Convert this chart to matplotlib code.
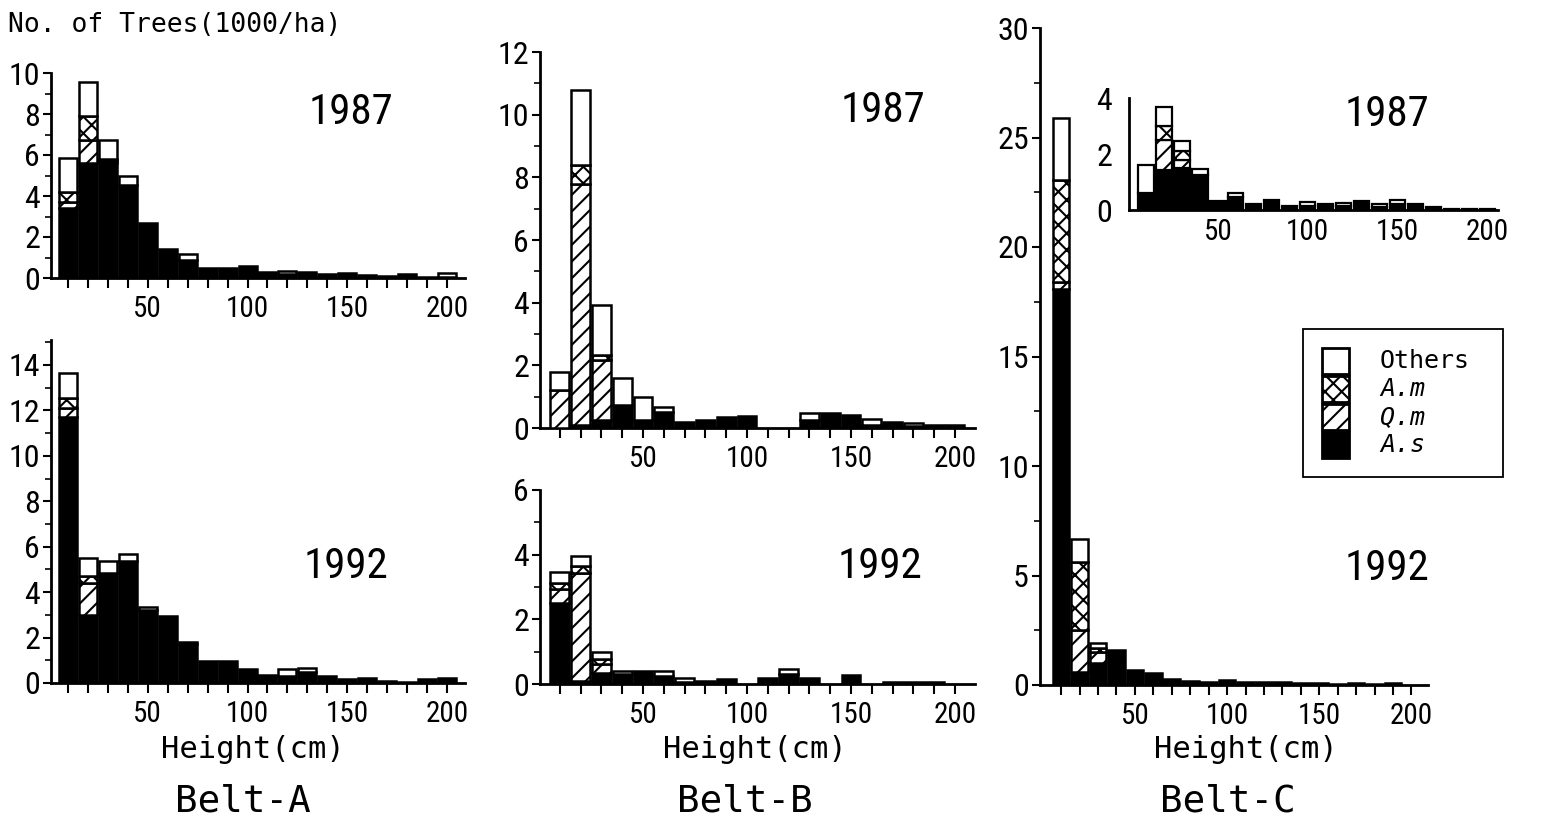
import matplotlib
matplotlib.use("Agg")
import matplotlib.pyplot as plt
from matplotlib.patches import Rectangle
from matplotlib.ticker import MultipleLocator
from matplotlib import font_manager
import numpy as np

plt.rcParams['hatch.linewidth'] = 1.5

# ---------------- data (1000 trees / ha) ----------------
bins = [10, 20, 30, 40, 50, 60, 70, 80, 90, 100, 110, 120, 130, 140, 150, 160, 170, 180, 190, 200]
xtick_labels = [50, 100, 150, 200]
species = ["Others", "A.m", "Q.m", "A.s"]

# Belt-A 1987
a87_as = [3.4, 5.6, 5.6, 4.55, 2.7, 1.4, 0.9, 0.5, 0.5, 0.6, 0.3, 0.2, 0.3, 0.2, 0.25, 0.15, 0.1, 0.2, 0.05, 0.05]
a87_qm = [0.3, 1.15, 0.1, 0, 0, 0, 0, 0, 0, 0, 0, 0, 0, 0, 0, 0, 0, 0, 0, 0]
a87_am = [0.5, 1.15, 0.1, 0, 0, 0, 0, 0, 0, 0, 0, 0, 0, 0, 0, 0, 0, 0, 0, 0]
a87_ot = [1.65, 1.65, 0.95, 0.45, 0, 0, 0.25, 0, 0, 0, 0, 0.15, 0, 0, 0, 0, 0, 0, 0, 0.2]
# Belt-A 1992
a92_as = [11.7, 3.0, 4.85, 5.35, 3.2, 2.93, 1.7, 0.98, 0.98, 0.6, 0.37, 0.3, 0.5, 0.3, 0.18, 0.22, 0.1, 0.05, 0.18, 0.22]
a92_qm = [0.4, 1.4, 0, 0, 0, 0, 0, 0, 0, 0, 0, 0, 0, 0, 0, 0, 0, 0, 0, 0]
a92_am = [0.45, 0.3, 0, 0, 0, 0, 0, 0, 0, 0, 0, 0, 0, 0, 0, 0, 0, 0, 0, 0]
a92_ot = [1.1, 0.8, 0.5, 0.35, 0.15, 0, 0.1, 0, 0, 0, 0, 0.3, 0.15, 0, 0, 0, 0, 0, 0, 0]
# Belt-B 1987
b87_as = [0, 0.1, 0.24, 0.72, 0.25, 0.5, 0.19, 0.24, 0.35, 0.38, 0, 0, 0.25, 0.49, 0.4, 0.1, 0.19, 0.05, 0.08, 0.08]
b87_qm = [1.2, 7.7, 1.92, 0, 0, 0, 0, 0, 0, 0, 0, 0, 0, 0, 0, 0, 0, 0, 0, 0]
b87_am = [0, 0.6, 0.16, 0, 0, 0, 0, 0, 0, 0, 0, 0, 0, 0, 0, 0, 0, 0, 0, 0]
b87_ot = [0.6, 2.4, 1.59, 0.88, 0.74, 0.17, 0, 0, 0, 0, 0, 0, 0.24, 0, 0, 0.2, 0, 0.11, 0, 0]
# Belt-B 1992
b92_as = [2.52, 0.1, 0.33, 0.3, 0.39, 0.25, 0.05, 0.1, 0.15, 0, 0.18, 0.3, 0.18, 0, 0.28, 0, 0.07, 0.07, 0.07, 0]
b92_qm = [0.41, 3.34, 0.3, 0, 0, 0, 0, 0, 0, 0, 0, 0, 0, 0, 0, 0, 0, 0, 0, 0]
b92_am = [0.2, 0.2, 0.15, 0, 0, 0, 0, 0, 0, 0, 0, 0, 0, 0, 0, 0, 0, 0, 0, 0]
b92_ot = [0.33, 0.31, 0.2, 0.09, 0, 0.14, 0.13, 0, 0, 0, 0, 0.17, 0, 0, 0, 0, 0, 0, 0, 0]
# Belt-C 1987 (inset)
c87_as = [0.62, 1.43, 1.49, 1.25, 0.32, 0.45, 0.21, 0.36, 0.16, 0.15, 0.2, 0.15, 0.31, 0.1, 0.2, 0.23, 0.1, 0.05, 0.04, 0.03]
c87_qm = [0, 1.07, 0.3, 0, 0, 0, 0, 0, 0, 0, 0, 0, 0, 0, 0, 0, 0, 0, 0, 0]
c87_am = [0, 0.49, 0.3, 0, 0, 0, 0, 0, 0, 0, 0, 0, 0, 0, 0, 0, 0, 0, 0, 0]
c87_ot = [0.97, 0.69, 0.36, 0.21, 0, 0.17, 0, 0, 0, 0.12, 0, 0.09, 0, 0.11, 0.15, 0, 0, 0, 0, 0]
# Belt-C 1992
c92_as = [18.1, 0.6, 1.0, 1.62, 0.68, 0.53, 0.27, 0.18, 0.12, 0.23, 0.12, 0.12, 0.12, 0.09, 0.08, 0.05, 0.08, 0.03, 0.1, 0]
c92_qm = [0.3, 1.9, 0.5, 0, 0, 0, 0, 0, 0, 0, 0, 0, 0, 0, 0, 0, 0, 0, 0, 0]
c92_am = [4.65, 3.1, 0.2, 0, 0, 0, 0, 0, 0, 0, 0, 0, 0, 0, 0, 0, 0, 0, 0, 0]
c92_ot = [2.85, 1.07, 0.2, 0, 0, 0, 0, 0, 0, 0, 0, 0, 0, 0, 0, 0, 0, 0, 0, 0]

# ---------------- styling ----------------
W, H = 1542, 835
_installed = {f.name for f in font_manager.fontManager.ttflist}
_narrow_pref = ['Liberation Sans Narrow', 'Arial Narrow', 'Roboto Condensed',
                'Open Sans Condensed', 'Noto Sans Condensed', 'DejaVu Sans Condensed',
                'Liberation Sans']
NARROW = [f for f in _narrow_pref if f in _installed] or ['DejaVu Sans']
NARROW = NARROW[:1] + ['DejaVu Sans']
MONO = ['DejaVu Sans Mono']
styles = {  # species -> (facecolor, hatch)
    "A.s": ("black", None),
    "Q.m": ("white", "//"),
    "A.m": ("white", "xx"),
    "Others": ("white", None),
}

fig = plt.figure(figsize=(W / 100, H / 100), dpi=100)


def ax_px(l, t, r, b):
    return fig.add_axes([l / W, 1 - b / H, (r - l) / W, (b - t) / H])


def fig_text(x, y, s, **kw):
    fig.text(x / W, 1 - y / H, s, ha='center', va='center', **kw)


def draw_panel(ax, s_as, s_qm, s_am, s_ot, ylim, xlim, major, minor,
               width=9.0, lw=1.8, inset=False):
    bottom = np.zeros(len(bins))
    for name, vals in (("A.s", s_as), ("Q.m", s_qm), ("A.m", s_am), ("Others", s_ot)):
        vals = np.asarray(vals, dtype=float)
        fc, hatch = styles[name]
        mask = vals > 0
        ax.bar(np.asarray(bins)[mask], vals[mask], width=width, bottom=bottom[mask],
               color=fc, edgecolor='black', linewidth=lw, hatch=hatch, zorder=3)
        bottom += vals
    ax.set_xlim(*xlim)
    ax.set_ylim(*ylim)
    for sp in ('top', 'right'):
        ax.spines[sp].set_visible(False)
    for sp in ('left', 'bottom'):
        ax.spines[sp].set_linewidth(2.0)
    ax.set_facecolor('none')
    ax.yaxis.set_major_locator(MultipleLocator(major))
    if minor:
        ax.yaxis.set_minor_locator(MultipleLocator(minor))
    if inset:
        ax.set_xticks(xtick_labels)
        ax.tick_params(axis='both', which='both', length=0, pad=6)
        ax.tick_params(axis='y', pad=12)
    else:
        ax.set_xticks(bins, minor=True)
        ax.set_xticks(xtick_labels)
        ax.tick_params(axis='x', which='both', direction='out', length=7, width=1.5, pad=5)
        ax.tick_params(axis='y', which='major', direction='out', length=6, width=1.5, pad=2)
        ax.tick_params(axis='y', which='minor', direction='out', length=4, width=1.2)
    ax.set_xticklabels([str(v) for v in xtick_labels])
    for lab in ax.get_xticklabels():
        lab.set_fontfamily(NARROW)
        lab.set_fontsize(21)
    for lab in ax.get_yticklabels():
        lab.set_fontfamily(NARROW)
        lab.set_fontsize(23)


# Belt-A
axA1 = ax_px(51, 73, 465, 278)
draw_panel(axA1, a87_as, a87_qm, a87_am, a87_ot, (0, 10), (1.5, 209), 2, 1)
axA2 = ax_px(51, 340, 465, 683)
draw_panel(axA2, a92_as, a92_qm, a92_am, a92_ot, (0, 15.1), (1.5, 209), 2, 1)
# Belt-B
axB1 = ax_px(540, 52, 975, 428)
draw_panel(axB1, b87_as, b87_qm, b87_am, b87_ot, (0, 12), (0.5, 209.6), 2, 1)
axB2 = ax_px(540, 490, 975, 684)
draw_panel(axB2, b92_as, b92_qm, b92_am, b92_ot, (0, 6), (0.5, 209.6), 2, 1)
# Belt-C
axC = ax_px(1040, 28, 1428, 685)
draw_panel(axC, c92_as, c92_qm, c92_am, c92_ot, (0, 30), (-1.5, 209), 5, 2.5)
axCi = ax_px(1129, 98, 1498, 210)
draw_panel(axCi, c87_as, c87_qm, c87_am, c87_ot, (0, 4), (0.5, 206), 2, None,
           width=8.5, lw=1.6, inset=True)

# year labels
for (x, y, s) in [(351, 112, "1987"), (346, 566, "1992"), (883, 110, "1987"),
                  (880, 567, "1992"), (1387, 115, "1987"), (1387, 568, "1992")]:
    fig_text(x, y, s, fontsize=31, family=NARROW)

# axis titles / belt labels
fig.text(8 / W, 1 - 25 / H, "No. of Trees(1000/ha)", ha='left', va='center',
         fontsize=19, family=MONO)
for x in (253, 755, 1246):
    fig_text(x, 750, "Height(cm)", fontsize=22, family=MONO)
for x, s in ((243, "Belt-A"), (745, "Belt-B"), (1228, "Belt-C")):
    fig_text(x, 802, s, fontsize=27, family=MONO)

# legend (drawn in pixel units of its own box)
lg = ax_px(1303, 329, 1503, 477)
lg.set_xlim(0, 200)
lg.set_ylim(148, 0)
lg.axis('off')
lg.add_patch(Rectangle((0, 0), 200, 148, facecolor='white', edgecolor='black',
                       linewidth=1.3, clip_on=False))
for i, name in enumerate(species):
    fc, hatch = styles[name]
    y0 = 19 + i * 28
    lg.add_patch(Rectangle((19, y0), 27, 26, facecolor=fc, edgecolor='black',
                           linewidth=2.0, hatch=hatch))
    lg.text(77, y0 + 13, name, ha='left', va='center', fontsize=18, family=MONO,
            style='normal' if name == "Others" else 'italic')

fig.savefig("out.png", dpi=100)
